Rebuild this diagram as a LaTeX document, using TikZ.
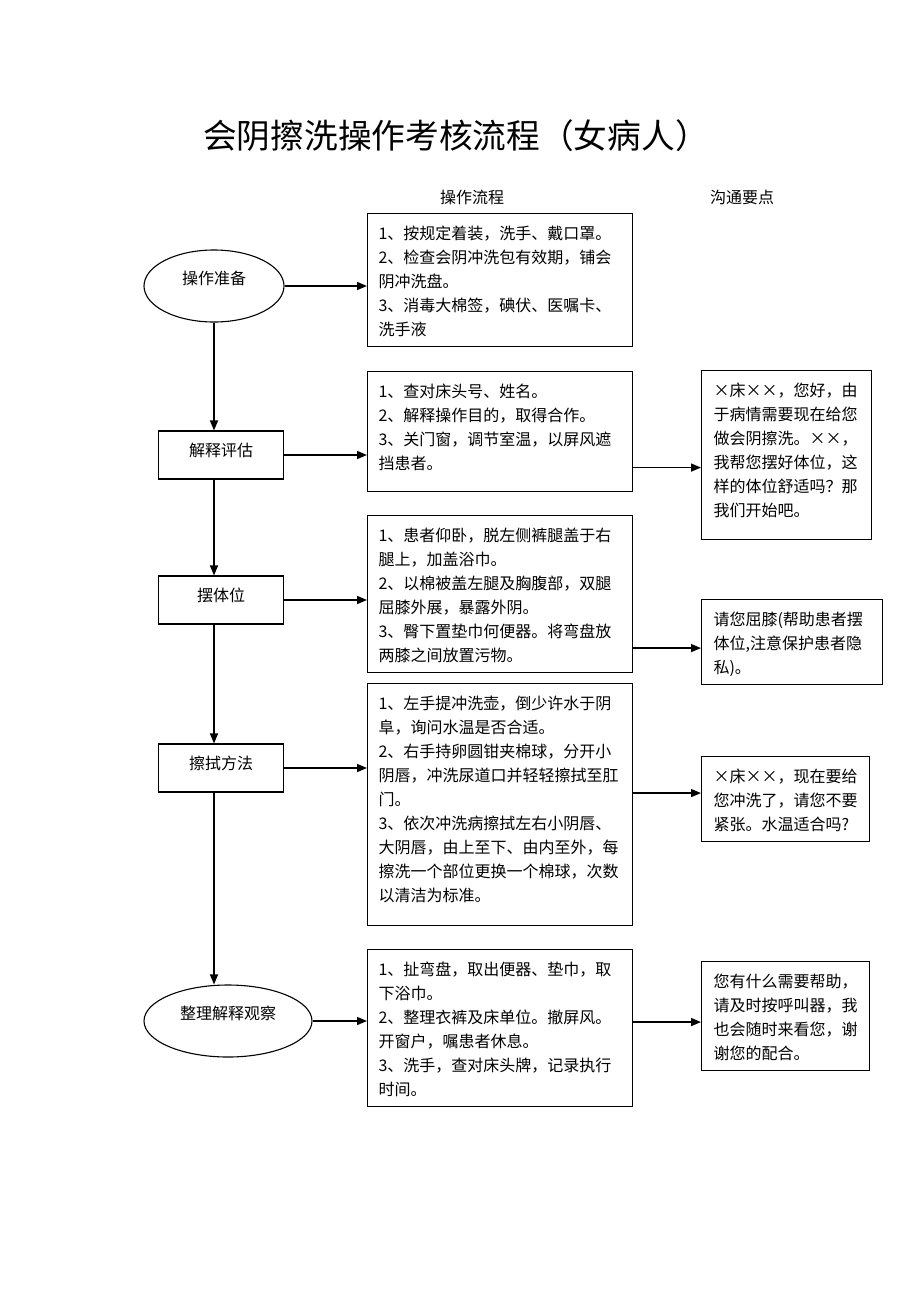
\documentclass[tikz,border=0pt]{standalone}
\usepackage{fontspec}
\setmainfont{Noto Sans CJK SC}
\usetikzlibrary{arrows.meta}
\usetikzlibrary{shapes.geometric}
\usetikzlibrary{calc}

\begin{document}
\begin{tikzpicture}[x=1pt,y=-1pt,line width=1.1pt,
  stepfont/.style={font=\fontsize{16}{24}\selectfont},
  procellipse/.style={draw, ellipse, stepfont, text height=14pt, text depth=18pt},
  procbox/.style={draw, rectangle, stepfont, minimum width=125pt, minimum height=48pt,
                  text height=14pt, text depth=12pt},
  stepbox/.style={draw, rectangle, anchor=north west, stepfont, align=left,
                  inner xsep=11pt, inner ysep=11.5pt, text height=14pt},
  talkbox/.style={stepbox, inner xsep=12pt},
  flow/.style={line width=1.5pt, -{Triangle[length=10pt,width=8pt]}}]

  \useasboundingbox (0,0) rectangle (920,1302);

  % title and column heads
  \node[font=\fontsize{33.7}{36}\selectfont] (title) at (456,136) {会阴擦洗操作考核流程（女病人）};
  \node[stepfont] (headsteps) at (472,197) {操作流程};
  \node[stepfont] (headtalk)  at (742,197) {沟通要点};

  % left column: the stages
  \node[procellipse, minimum width=140pt, minimum height=72pt] (prep) at (214,286) {操作准备};
  \node[procbox] (assess)   at (221,455) {解释评估};
  \node[procbox] (position) at (221,600) {摆体位};
  \node[procbox] (wipe)     at (221,768) {擦拭方法};
  \node[procellipse, minimum width=168pt, minimum height=72pt] (tidy) at (228,1021) {整理解释观察};

  % middle column: the steps
  \node[stepbox, text width=243pt, text depth=96pt] (steps1) at (367,213)
  {1、按规定着装，洗手、戴口罩。\\
   2、检查会阴冲洗包有效期，铺会\\
   阴冲洗盘。\\
   3、消毒大棉签，碘伏、医嘱卡、\\
   洗手液};

  \node[stepbox, text width=243pt, text depth=83pt] (steps2) at (367,371)
  {1、查对床头号、姓名。\\
   2、解释操作目的，取得合作。\\
   3、关门窗，调节室温，以屏风遮\\
   挡患者。};

  \node[stepbox, text width=243pt, text depth=120pt] (steps3) at (367,515)
  {1、患者仰卧，脱左侧裤腿盖于右\\
   腿上，加盖浴巾。\\
   2、以棉被盖左腿及胸腹部，双腿\\
   屈膝外展，暴露外阴。\\
   3、臀下置垫巾何便器。将弯盘放\\
   两膝之间放置污物。};

  \node[stepbox, text width=243pt, text depth=205pt] (steps4) at (367,683)
  {1、左手提冲洗壶，倒少许水于阴\\
   阜，询问水温是否合适。\\
   2、右手持卵圆钳夹棉球，分开小\\
   阴唇，冲洗尿道口并轻轻擦拭至肛\\
   门。\\
   3、依次冲洗病擦拭左右小阴唇、\\
   大阴唇，由上至下、由内至外，每\\
   擦洗一个部位更换一个棉球，次数\\
   以清洁为标准。};

  \node[stepbox, text width=243pt, text depth=120pt] (steps5) at (367,949)
  {1、扯弯盘，取出便器、垫巾，取\\
   下浴巾。\\
   2、整理衣裤及床单位。撤屏风。\\
   开窗户，嘱患者休息。\\
   3、洗手，查对床头牌，记录执行\\
   时间。};

  % right column: what to say
  \node[talkbox, text width=146pt, text depth=132pt] (talk1) at (701,370)
  {×床××，您好，由\\
   于病情需要现在给您\\
   做会阴擦洗。××，\\
   我帮您摆好体位，这\\
   样的体位舒适吗？那\\
   我们开始吧。};

  \node[talkbox, text width=157pt, text depth=48pt] (talk2) at (701,599)
  {请您屈膝(帮助患者摆\\
   体位,注意保护患者隐\\
   私)。};

  \node[talkbox, text width=144pt, text depth=48pt] (talk3) at (701,756)
  {×床××，现在要给\\
   您冲洗了，请您不要\\
   紧张。水温适合吗?};

  \node[talkbox, text width=144pt, text depth=72pt] (talk4) at (701,961)
  {您有什么需要帮助，\\
   请及时按呼叫器，我\\
   也会随时来看您，谢\\
   谢您的配合。};

  % down the left column
  \draw[flow] (prep.south) -- (prep.south |- assess.north);
  \draw[flow] (assess.south -| prep.south) -- (prep.south |- position.north);
  \draw[flow] (position.south -| prep.south) -- (prep.south |- wipe.north);
  \draw[flow] (wipe.south -| prep.south) -- (prep.south |- tidy.north);

  % stage to steps
  \draw[flow] (prep.east) -- (prep.east -| steps1.west);
  \draw[flow] (assess.east) -- (assess.east -| steps2.west);
  \draw[flow] (position.east) -- (position.east -| steps3.west);
  \draw[flow] (wipe.east) -- (wipe.east -| steps4.west);
  \draw[flow] (tidy.east) -- (tidy.east -| steps5.west);

  % steps to talk
  \coordinate (tip1) at ([yshift=-12.5pt]talk1.west);
  \coordinate (tip2) at ([yshift=-6pt]talk2.west);
  \coordinate (tip3) at ([yshift=6pt]talk3.west);
  \coordinate (tip4) at ([yshift=-6pt]talk4.west);
  \draw[flow] (steps2.east |- tip1) -- (tip1);
  \draw[flow] (steps3.east |- tip2) -- (tip2);
  \draw[flow] (steps4.east |- tip3) -- (tip3);
  \draw[flow] (steps5.east |- tip4) -- (tip4);

\end{tikzpicture}
\end{document}
